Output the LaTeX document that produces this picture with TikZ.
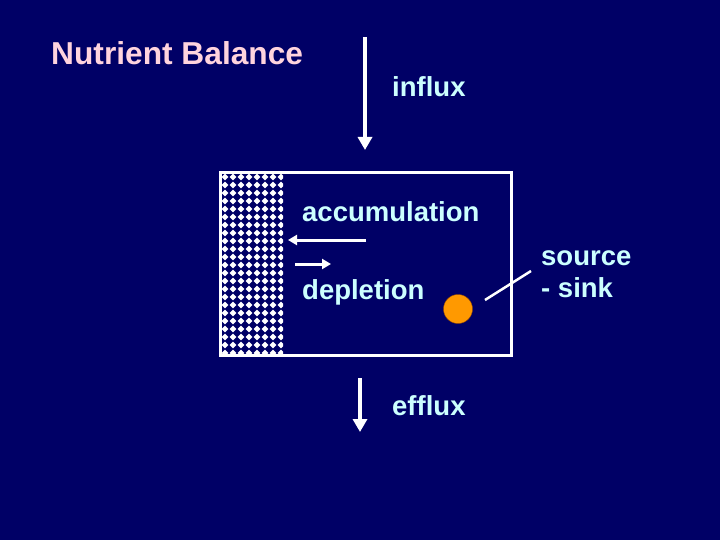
\documentclass[tikz,border=0pt]{standalone}
\usepackage{fontspec}
\setmainfont{Liberation Sans}
\usetikzlibrary{arrows.meta}
\definecolor{slide}{RGB}{0,0,102}
\definecolor{labcol}{RGB}{204,255,255}
\definecolor{titlecol}{RGB}{255,212,222}
\definecolor{dotorange}{RGB}{255,153,0}

\begin{document}
\begin{tikzpicture}[x=1pt,y=-1pt,
  lbl/.style={text=labcol,font=\bfseries\fontsize{27.5}{31}\selectfont,anchor=base west,inner sep=0pt},
  flow/.style={white,line width=4pt,-{Triangle[width=14pt,length=13pt]}},
  swap/.style={white,line width=3pt,-{Triangle[width=10pt,length=9pt]}}]
% slide background
\fill[slide] (0,0) rectangle (720,540);
\useasboundingbox (0,0) rectangle (720,540);
\node[lbl,text=titlecol,font=\bfseries\fontsize{31.7}{35}\selectfont] (title) at (51,65) {Nutrient Balance};
% the compartment, with the sediment strip on its left
\begin{scope}
  \clip (221,174) rectangle (283,354);
  \foreach \i in {0,...,8} {
    \foreach \j in {0,...,23} {
      \fill[white] ({225+8*\i},{177+8*\j}) +(0,-3.4) -- +(3.4,0) -- +(0,3.4) -- +(-3.4,0) -- cycle;
    }
  }
\end{scope}
\draw[white,line width=3pt] (220,173) rectangle (511,355);
% influx and efflux
\coordinate (intop) at (365,37);
\coordinate (inbot) at (365,150);
\draw[flow] (intop) -- (inbot);
\node[lbl] (influx) at (392,97) {influx};
\coordinate (eftop) at (360,378);
\coordinate (efbot) at (360,432);
\draw[flow] (eftop) -- (efbot);
\node[lbl] (efflux) at (392,415) {efflux};
% exchange with the strip
\node[lbl] (accum) at (302,222) {accumulation};
\coordinate (acfrom) at (366,240);
\coordinate (acto) at (288,240);
\draw[swap] (acfrom) -- (acto);
\coordinate (defrom) at (295,264);
\coordinate (deto) at (331,264);
\draw[swap] (defrom) -- (deto);
\node[lbl] (depl) at (302,299) {depletion};
% source - sink
\node[circle,fill=dotorange,draw=orange!60!black,line width=0.4pt,minimum size=29pt,inner sep=0pt] (dot) at (458,309) {};
\node[lbl] (source) at (541,265) {source};
\node[lbl] (sink) at (541,297) {- sink};
\coordinate (lnstart) at (485,300);
\coordinate (lnend) at (531,271);
\draw[white,line width=2.5pt] (lnstart) -- (lnend);
\end{tikzpicture}
\end{document}
